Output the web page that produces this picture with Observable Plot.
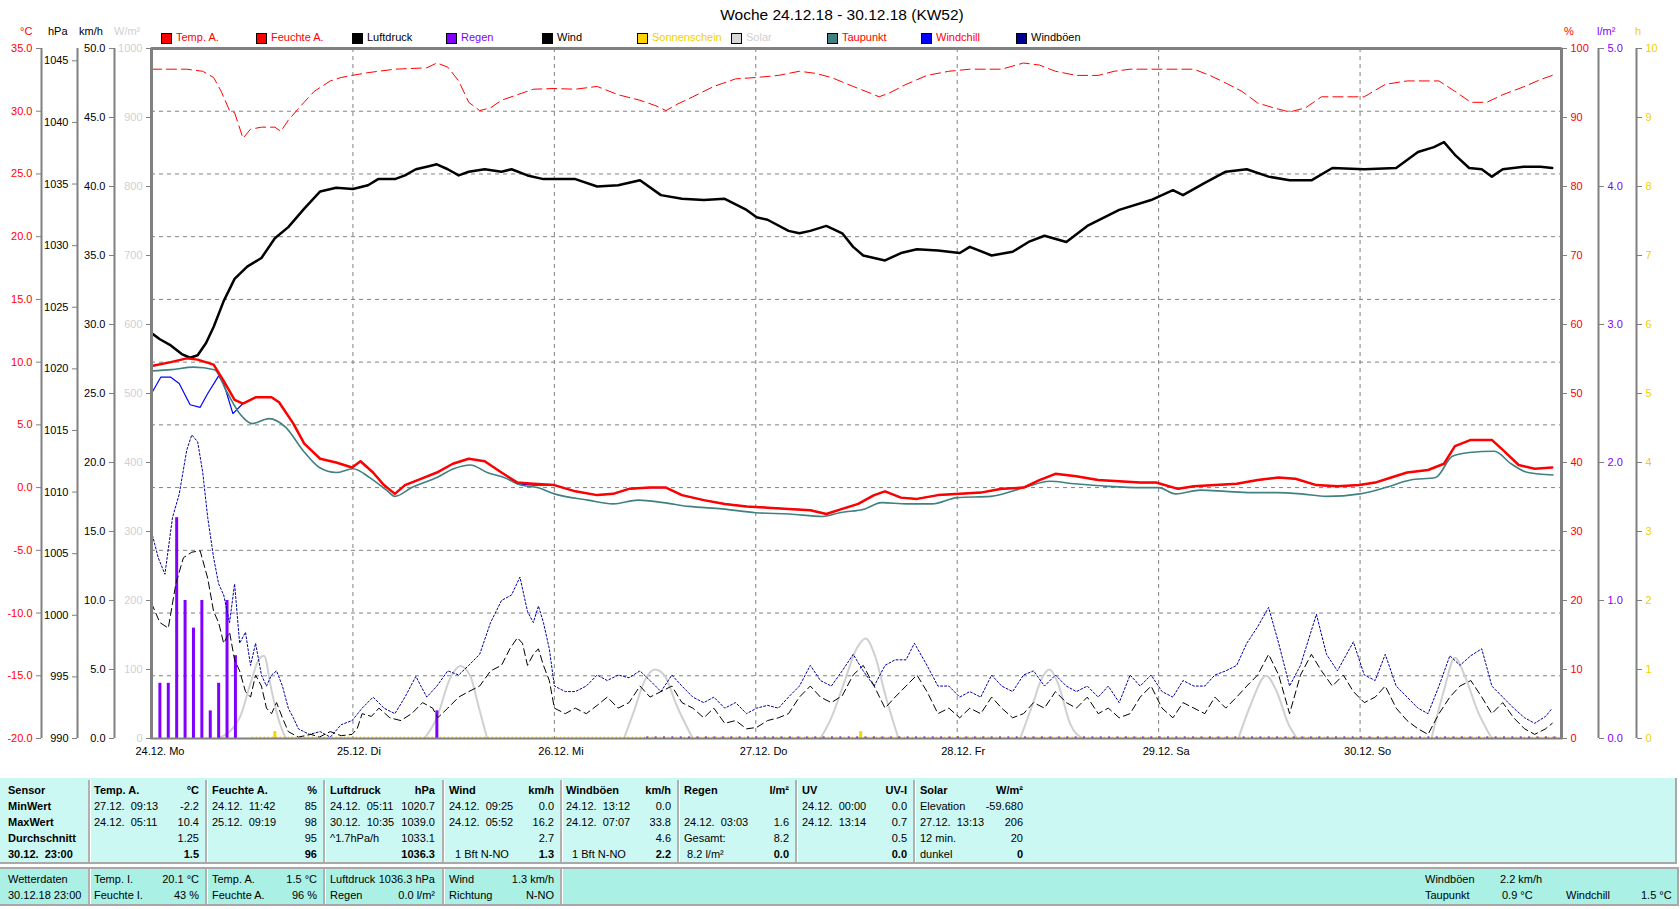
<!DOCTYPE html>
<html><head><meta charset="utf-8">
<script src="https://cdn.jsdelivr.net/npm/d3@7"></script>
<script src="https://cdn.jsdelivr.net/npm/@observablehq/plot@0.6"></script>
<style>
body{margin:0;background:#fff;font-family:"Liberation Sans",Arial,sans-serif;}
#wrap{position:relative;width:1680px;height:909px;overflow:hidden;background:#fff}
.a{position:absolute;white-space:nowrap;font-size:11px;line-height:13px}
.b{font-weight:bold}
#chart{position:absolute;left:0;top:0}
</style></head><body><div id="wrap"><div id="chart"></div></div>
<script>
// ---------- DATA (hours since 24.12.18 00:00) ----------
const dayHours = [0, 24, 48, 72, 96, 120, 144];
const dayLabels = ["24.12. Mo", "25.12. Di", "26.12. Mi", "27.12. Do", "28.12. Fr", "29.12. Sa", "30.12. So"];
const tempTicks = [-20, -15, -10, -5, 0, 5, 10, 15, 20, 25, 30, 35];
const hpaTicks = [990, 995, 1000, 1005, 1010, 1015, 1020, 1025, 1030, 1035, 1040, 1045];
const kmhTicks = [0, 5, 10, 15, 20, 25, 30, 35, 40, 45, 50];
const solarTicks = [0, 100, 200, 300, 400, 500, 600, 700, 800, 900, 1000];
const humTicks = [0, 10, 20, 30, 40, 50, 60, 70, 80, 90, 100];
const rainTicks = [0, 1, 2, 3, 4, 5];
const sunTicks = [0, 1, 2, 3, 4, 5, 6, 7, 8, 9, 10];

const temperature = [[0,9.7],[2.3,10.0],[4.2,10.3],[5.5,10.2],[7.4,9.8],[8.6,8.5],[9.9,7.0],[10.9,6.7],[12.4,7.2],[14.3,7.2],[15.2,6.8],[16.9,5.1],[18.2,3.5],[20.1,2.3],[22,2.0],[23.9,1.6],[24.9,2.1],[26.4,1.2],[27.7,0.2],[29,-0.5],[30.2,0.2],[32.1,0.7],[34,1.2],[35.9,1.9],[37.8,2.3],[39.7,2.1],[41.7,1.2],[43.6,0.4],[45.5,0.3],[48,0.2],[50.5,-0.3],[53.1,-0.6],[55,-0.5],[56.9,-0.1],[59.4,0.0],[61.3,0.0],[63.2,-0.6],[65.8,-1.0],[68.3,-1.3],[70.9,-1.5],[73.4,-1.6],[75.9,-1.7],[78.5,-1.8],[80.4,-2.1],[82.3,-1.7],[84.2,-1.3],[86.1,-0.6],[87.4,-0.3],[89.3,-0.8],[91.2,-0.9],[93.7,-0.6],[96.3,-0.5],[98.8,-0.4],[101.3,-0.1],[103.9,0.0],[105.8,0.6],[107.7,1.1],[110.2,0.9],[112.8,0.6],[115.3,0.5],[117.8,0.4],[119.7,0.4],[122.3,-0.1],[124.2,0.1],[126.7,0.2],[129.3,0.3],[131.8,0.6],[134.3,0.8],[136.3,0.7],[138.8,0.2],[141.3,0.1],[143.9,0.2],[145.8,0.4],[147.7,0.8],[149.6,1.2],[152.1,1.4],[154,1.9],[155.3,3.3],[157.2,3.8],[159.7,3.8],[161,3.0],[162.9,1.8],[164.8,1.5],[166.9,1.6]];

const dewPoint = [[0,9.3],[2.4,9.4],[5,9.6],[7.5,9.4],[9,7.6],[10.5,5.9],[12,5.1],[14,5.5],[16,4.8],[18,3.0],[20,1.6],[22,1.2],[24,1.5],[26,0.8],[28,-0.2],[29,-0.7],[31,0.0],[34,0.8],[36,1.5],[38,1.8],[40,1.2],[42,0.8],[44,0.2],[46,0.0],[48,-0.5],[52,-1.0],[55,-1.3],[58,-1.0],[61,-1.2],[64,-1.5],[68,-1.7],[72,-2.0],[76,-2.1],[80,-2.3],[82,-2.0],[85,-1.7],[87,-1.2],[90,-1.3],[93,-1.3],[96,-0.8],[100,-0.7],[104,0.0],[107,0.5],[110,0.3],[114,0.1],[118,0.0],[120,0.0],[122,-0.5],[125,-0.2],[128,-0.3],[131,-0.4],[134,-0.4],[137,-0.5],[140,-0.7],[144,-0.5],[147,0.0],[150,0.6],[153,0.8],[155,2.5],[157,2.8],[160,2.9],[162,1.9],[164,1.2],[167,1.0]];

const windChill = [[0,7.5],[1.1,8.8],[2.3,8.8],[3.3,8.3],[4.6,6.6],[5.8,6.4],[6.7,7.5],[8.0,8.9],[8.6,8.3],[9.7,5.9],[10.9,6.7],[12.4,7.2],[14.3,7.2],[15.2,6.8],[16.9,5.1],[18.2,3.5],[20.1,2.3],[22,2.0],[23.9,1.6],[24.9,2.1],[26.4,1.2],[27.7,0.2],[29,-0.5],[30.2,0.2],[32.1,0.7],[34,1.2],[35.9,1.9],[37.8,2.3],[39.7,2.1],[41.7,1.2],[43.6,0.3],[45.5,0.2],[48,0.2],[50.5,-0.3],[53.1,-0.6],[55,-0.5],[56.9,-0.1],[59.4,0.0],[61.3,0.0],[63.2,-0.6],[65.8,-1.0],[68.3,-1.3],[70.9,-1.5],[73.4,-1.6],[75.9,-1.7],[78.5,-1.8],[80.4,-2.1],[82.3,-1.7],[84.2,-1.3],[86.1,-0.6],[87.4,-0.3],[89.3,-0.8],[91.2,-0.9],[93.7,-0.6],[96.3,-0.5],[98.8,-0.4],[101.3,-0.1],[103.9,0.0],[105.8,0.6],[107.7,1.1],[110.2,0.9],[112.8,0.6],[115.3,0.5],[117.8,0.4],[119.7,0.4],[122.3,-0.1],[124.2,0.1],[126.7,0.2],[129.3,0.3],[131.8,0.6],[134.3,0.8],[136.3,0.7],[138.8,0.2],[141.3,0.1],[143.9,0.2],[145.8,0.4],[147.7,0.8],[149.6,1.2],[152.1,1.4],[154,1.9],[155.3,3.3],[157.2,3.8],[159.7,3.8],[161,3.0],[162.9,1.8],[164.8,1.5],[166.9,1.6]];

const humidity = [[0,97.0],[4.2,97.0],[6.1,96.7],[7.4,95.8],[8.3,93.8],[9.3,91.0],[9.9,90.7],[10.9,87.0],[11.8,88.3],[13.1,88.6],[14.7,88.6],[15.4,88.0],[16.3,89.6],[17.8,91.7],[19.4,93.8],[21.3,95.3],[22.6,95.8],[23.9,96.1],[25.8,96.5],[29,97.0],[32.8,97.2],[34,97.9],[35.3,97.3],[36.6,95.3],[37.8,92.2],[39.1,91.0],[40.4,91.4],[41.7,92.5],[43.6,93.3],[45.5,94.1],[48,94.2],[50.5,94.1],[53.1,94.5],[55.6,93.3],[58.2,92.5],[60.1,91.7],[61.3,91.0],[62.6,91.9],[64.5,93.0],[67,94.5],[69.6,95.6],[72.1,95.8],[74.7,96.1],[77.2,96.7],[79.1,96.4],[81,95.8],[83.6,94.5],[85.5,93.6],[86.7,93.0],[88,93.6],[89.9,94.8],[92.4,96.1],[95,96.7],[97.5,97.0],[101.3,97.0],[103.9,97.9],[105.8,97.6],[107.7,96.7],[110.2,96.1],[112.8,96.1],[114.7,96.7],[116.6,97.0],[120.4,97.0],[124.2,97.0],[126.1,96.1],[128,95.0],[129.9,93.8],[131.8,92.1],[133.7,91.4],[135.6,90.8],[137.5,91.4],[139.4,93.0],[143.2,93.0],[144.5,93.0],[147,94.8],[149.6,95.3],[153.4,95.3],[155.3,93.8],[157.2,92.2],[159.1,92.2],[161,93.3],[163.6,94.5],[165.5,95.5],[166.9,96.1]];

const pressure = [[0,1022.9],[1,1022.4],[2.3,1021.9],[3.6,1021.2],[4.6,1020.9],[5.5,1021.1],[6.5,1022.1],[7.4,1023.4],[8.6,1025.5],[9.9,1027.3],[11.4,1028.3],[13.1,1029.0],[14.7,1030.6],[16.3,1031.5],[18.2,1033.0],[20.1,1034.4],[22,1034.7],[24,1034.6],[25.8,1034.9],[27,1035.4],[29,1035.4],[30.2,1035.7],[31.5,1036.2],[32.8,1036.4],[34,1036.6],[35.3,1036.2],[36.6,1035.7],[37.8,1036.0],[39.7,1036.2],[41.7,1036.0],[42.9,1036.2],[44.8,1035.7],[46.7,1035.4],[48,1035.4],[50.5,1035.4],[53.1,1034.8],[55.6,1034.9],[58.2,1035.3],[60.7,1034.1],[63.2,1033.8],[65.8,1033.7],[68.3,1033.8],[70.9,1032.9],[72.1,1032.3],[73.4,1032.1],[75.9,1031.2],[77.2,1031.0],[78.5,1031.2],[80.4,1031.6],[82.3,1031.0],[83.6,1029.9],[84.8,1029.2],[87.4,1028.8],[89.3,1029.4],[91.2,1029.7],[93.7,1029.6],[96.3,1029.4],[97.5,1029.9],[100.1,1029.2],[102.6,1029.5],[104.5,1030.3],[106.4,1030.8],[109,1030.3],[111.5,1031.6],[115.3,1032.9],[119.1,1033.7],[121.7,1034.5],[122.9,1034.1],[125.5,1035.1],[128,1036.0],[130.5,1036.2],[133.1,1035.6],[135.6,1035.3],[138.2,1035.3],[140.7,1036.3],[144.5,1036.2],[148.3,1036.3],[150.9,1037.6],[152.8,1038.0],[154,1038.4],[155.4,1037.3],[157,1036.3],[158.5,1036.2],[159.7,1035.6],[161,1036.2],[163.5,1036.4],[165.5,1036.4],[166.9,1036.3]];

const wind = [[0,9.8],[1,8.4],[2,8.0],[2.9,11.2],[3.8,13.1],[4.8,13.5],[5.8,13.6],[6.7,11.6],[7.4,9.2],[8,8.4],[8.6,6.9],[9.3,7.7],[9.9,5.7],[10.5,4.9],[11.2,3.4],[11.8,3.0],[12.4,4.6],[13.1,3.8],[13.7,2.2],[14.3,1.8],[14.9,2.6],[15.6,1.5],[16.3,0.5],[17.5,0.1],[19,0.3],[20,0.1],[21.3,0.5],[22.6,0.2],[23.9,0.3],[24.5,0.7],[25.1,1.8],[26.2,1.6],[27.1,2.2],[28.4,1.5],[29.7,1.3],[31,1.8],[32.3,2.6],[33.5,2.2],[34.1,1.5],[35.3,2.2],[36.6,3.0],[37.8,3.4],[39.1,3.8],[40.4,4.9],[41.7,5.3],[42.7,6.5],[43.6,7.3],[44.2,6.9],[44.8,5.3],[45.5,6.1],[46.1,6.5],[46.7,5.3],[47.4,4.2],[48,2.2],[49.3,1.8],[50.5,2.2],[51.8,1.8],[53.1,2.4],[54.3,3.0],[55.6,2.2],[56.9,2.6],[58.2,3.8],[59.4,3.0],[60.7,3.4],[62,3.8],[63.2,2.6],[64.5,2.2],[65.8,1.5],[67,2.2],[68.3,1.1],[69.6,1.3],[70.9,0.7],[72.1,0.8],[73.4,1.3],[74.7,1.5],[75.9,1.8],[77.2,3.0],[78.5,3.8],[79.7,3.0],[81,2.6],[82.3,3.1],[83.6,4.6],[84.8,5.3],[86.1,3.8],[87.4,2.2],[88.6,3.0],[89.9,3.8],[91.2,4.6],[92.4,3.4],[93.7,1.8],[95,2.2],[96.3,1.5],[97.5,2.2],[98.8,1.8],[100.1,3.0],[101.3,2.2],[102.6,1.5],[103.9,1.8],[105.1,2.6],[106.4,2.2],[107.7,3.4],[109,2.6],[110.2,2.2],[111.5,3.0],[112.8,1.8],[114,2.2],[115.3,1.5],[116.6,1.8],[117.8,3.0],[119.1,3.8],[120.4,2.2],[121.7,1.5],[122.9,2.6],[124.2,2.2],[125.5,1.8],[126.7,3.0],[128,2.2],[129.3,3.0],[130.5,3.8],[131.8,4.6],[133.1,6.1],[134.3,4.6],[135.6,1.8],[136.9,4.6],[138.2,6.1],[139.4,4.9],[140.7,3.8],[142,4.6],[143.2,3.4],[144.5,2.6],[145.8,3.0],[147,3.8],[148.3,2.2],[149.6,1.3],[150.9,0.7],[152.1,0.3],[153.4,1.8],[154.7,3.0],[155.9,3.8],[157.2,4.2],[158.5,3.0],[159.7,1.8],[161,2.6],[162.3,1.5],[163.6,0.7],[164.8,0.3],[166.1,0.7],[166.9,1.1]];

const gusts = [[0,15.0],[0.8,13.1],[1.6,11.9],[2.5,16.0],[3.3,17.7],[4.2,20.9],[4.8,22.0],[5.5,21.5],[6.1,19.3],[6.7,16.0],[7.4,13.1],[8,11.2],[8.6,10.4],[9.3,8.4],[9.9,11.2],[10.5,6.9],[11.2,7.7],[11.8,5.3],[12.4,6.9],[13.1,4.6],[13.7,3.8],[14.3,4.6],[14.9,4.9],[15.6,3.8],[16.3,2.2],[16.9,1.5],[17.5,0.7],[18.8,0.3],[20.1,0.5],[21.3,0.1],[22.6,1.0],[23.9,1.3],[25.1,2.2],[26.4,3.0],[27.7,2.2],[29,1.8],[30.2,3.0],[31.5,4.5],[32.1,3.8],[32.8,3.0],[34,3.8],[35.3,4.9],[36.6,4.6],[37.8,5.3],[39.1,6.1],[40.4,8.4],[41.7,10.0],[42.9,10.4],[43.9,11.7],[44.8,9.2],[45.5,8.4],[46.1,9.6],[46.7,8.4],[47.4,6.5],[48,3.8],[49.3,3.4],[50.5,3.4],[51.8,3.8],[53.1,4.6],[54.3,4.2],[55.6,4.6],[56.9,4.4],[58.2,4.9],[59.4,4.2],[60.7,3.4],[62,4.6],[63.2,3.8],[64.5,3.0],[65.8,2.6],[67,3.0],[68.3,2.2],[69.6,2.6],[70.9,1.8],[72.1,2.2],[73.4,2.4],[74.7,2.2],[75.9,3.0],[77.2,3.8],[78.5,5.3],[79.7,4.2],[81,3.8],[82.3,4.9],[83.6,6.1],[84.8,4.9],[86.1,3.8],[87.4,5.3],[88.6,5.7],[89.9,5.7],[90.9,6.9],[92.4,5.3],[93.7,3.8],[95,3.8],[96.3,3.0],[97.5,3.4],[98.8,3.0],[100.1,4.6],[101.3,3.8],[102.6,3.4],[103.9,4.6],[105.1,4.9],[106.4,3.8],[107.7,4.6],[109,3.8],[110.2,3.4],[111.5,3.8],[112.8,3.0],[114,3.8],[115.3,2.6],[116.6,4.6],[117.8,3.8],[119.1,4.6],[120.4,3.4],[121.7,3.0],[122.9,4.2],[124.2,3.8],[125.5,3.8],[126.7,4.6],[128,4.9],[129.3,5.3],[130.5,6.9],[131.8,8.1],[133.1,9.5],[134.3,6.9],[135.6,3.8],[136.9,5.3],[138.8,9.0],[140,6.1],[141.3,4.9],[143.2,7.0],[144.5,4.6],[145.8,4.2],[147,6.1],[148.3,3.8],[149.6,3.0],[150.9,2.2],[152.1,1.8],[153.4,3.8],[154.7,6.0],[155.9,5.3],[157.2,6.0],[158.5,6.5],[159.7,3.8],[161,3.0],[162.3,2.2],[163.6,1.5],[164.8,1.1],[166.1,1.6],[166.9,2.2]];

const solar = [[8,0],[10.5,30],[11.8,80],[12.8,115],[13.4,120],[14.3,70],[15.2,25],[16,0],
  [32.5,0],[34,30],[35.5,85],[36.8,105],[38,90],[39,45],[40,0],
  [56.3,0],[57.5,40],[58.8,85],[60,100],[61.2,90],[62.5,50],[64.5,0],
  [79.7,0],[81,30],[82.5,80],[84,130],[85.1,145],[86.2,120],[87.5,60],[89,0],
  [103.5,0],[105,50],[106,85],[107,100],[108,80],[109.5,20],[111,0],
  [129.5,0],[131,50],[132.8,91],[134,70],[135.5,20],[136.5,0],
  [152.5,0],[154,70],[155.3,117],[156.5,90],[158,40],[159.7,0]];

const rain = [[0,0.6],[1,0.4],[2,0.4],[3,1.6],[4,1.0],[5,0.8],[6,1.0],[7,0.2],[8,0.4],[9,1.0],[10,0.6],[34,0.2]];
const sunshine = [[14.7,0.1],[84.5,0.1]];
// spans (hours) where zero readings are drawn along the base line
const sunZeroSpan = [12, 168];
const rainZeroSpan = [59, 168];

// ---------- value -> temperature-axis position ----------
const fHum = h => -20 + h * 0.55;
const fP = p => -20 + (p - 990) * 55 / 56;
const fW = w => -20 + w * 1.1;
const fS = s => -20 + s * 0.055;
const fR = r => -20 + r * 11;
const fSun = h => -20 + h * 5.5;

const gray = "#808080";
const axOpts = {label: null, tickSize: 5, fontSize: 11, stroke: gray};

const chart = Plot.plot({
  width: 1680, height: 770,
  marginLeft: 151, marginRight: 119, marginTop: 48, marginBottom: 32,
  x: {domain: [0, 168], axis: null},
  y: {domain: [-20, 35], axis: null},
  style: {fontFamily: "Liberation Sans, Arial, sans-serif", fontSize: "11px", background: "transparent", overflow: "visible"},
  marks: [
    Plot.ruleY(tempTicks.slice(1, -1), {stroke: gray, strokeDasharray: "4,4", strokeWidth: 1}),
    Plot.ruleX(dayHours.slice(1), {stroke: gray, strokeDasharray: "4,4", strokeWidth: 1}),
    Plot.line(solar, {x: d => d[0], y: d => fS(d[1]), z: d => Math.floor(d[0] / 24), stroke: "#d0d0d0", strokeWidth: 2, curve: "monotone-x"}),
    Plot.ruleY([-20], {x1: sunZeroSpan[0], x2: sunZeroSpan[1], stroke: "#F0C800", strokeWidth: 2, strokeDasharray: "1,3", dy: -1}),
    Plot.ruleY([-20], {x1: rainZeroSpan[0], x2: rainZeroSpan[1], stroke: "#8000FF", strokeWidth: 2, strokeDasharray: "2,6.4", dy: -1}),
    Plot.ruleX(sunshine, {x: d => d[0], y1: -20, y2: d => fSun(d[1]), stroke: "#FFD200", strokeWidth: 3}),
    Plot.ruleX(rain, {x: d => d[0], y1: -20, y2: d => fR(d[1]), stroke: "#8000FF", strokeWidth: 3}),
    Plot.line(gusts, {x: d => d[0], y: d => fW(d[1]), stroke: "#0000A0", strokeWidth: 1, strokeDasharray: "2,2"}),
    Plot.line(wind, {x: d => d[0], y: d => fW(d[1]), stroke: "#000", strokeWidth: 1, strokeDasharray: "7,4"}),
    Plot.line(windChill, {x: d => d[0], y: d => d[1], stroke: "#0000FF", strokeWidth: 1.2}),
    Plot.line(dewPoint, {x: d => d[0], y: d => d[1], stroke: "#408080", strokeWidth: 1.6, curve: "monotone-x"}),
    Plot.line(humidity, {x: d => d[0], y: d => fHum(d[1]), stroke: "#FF0000", strokeWidth: 1, strokeDasharray: "10,5"}),
    Plot.line(pressure, {x: d => d[0], y: d => fP(d[1]), stroke: "#000", strokeWidth: 2.5}),
    Plot.line(temperature, {x: d => d[0], y: d => d[1], stroke: "#FF0000", strokeWidth: 2.5}),
    Plot.frame({stroke: gray, strokeWidth: 2}),
    Plot.ruleY([35], {stroke: gray, strokeWidth: 3}),
    Plot.ruleX([0], {stroke: gray, strokeWidth: 3}),
    Plot.ruleX([168], {stroke: gray, strokeWidth: 3}),
    // left axes
    Plot.ruleX([0], {dx: -110, stroke: gray, strokeWidth: 2}),
    Plot.axisY(tempTicks, {...axOpts, anchor: "left", dx: -110, fill: "#FF0000", tickFormat: d => d.toFixed(1)}),
    Plot.ruleX([0], {dx: -74, stroke: gray, strokeWidth: 2}),
    Plot.axisY(hpaTicks.map(fP), {...axOpts, anchor: "left", dx: -74, fill: "#000", tickFormat: d => String(Math.round(990 + (d + 20) * 56 / 55))}),
    Plot.ruleX([0], {dx: -37, stroke: gray, strokeWidth: 2}),
    Plot.axisY(kmhTicks.map(fW), {...axOpts, anchor: "left", dx: -37, fill: "#000", tickFormat: d => ((d + 20) / 1.1).toFixed(1)}),
    Plot.axisY(solarTicks.map(fS), {...axOpts, anchor: "left", fill: "#d0d0d0", tickFormat: d => String(Math.round((d + 20) / 0.055))}),
    // right axes
    Plot.axisY(humTicks.map(fHum), {...axOpts, anchor: "right", fill: "#FF0000", tickFormat: d => String(Math.round((d + 20) / 0.55))}),
    Plot.ruleX([168], {dx: 37, stroke: gray, strokeWidth: 2}),
    Plot.axisY(rainTicks.map(fR), {...axOpts, anchor: "right", dx: 37, fill: "#8000FF", tickFormat: d => ((d + 20) / 11).toFixed(1)}),
    Plot.ruleX([168], {dx: 75, stroke: gray, strokeWidth: 2}),
    Plot.axisY(sunTicks.map(fSun), {...axOpts, anchor: "right", dx: 75, fill: "#F0D000", tickFormat: d => String(Math.round((d + 20) / 5.5))}),
    // x labels
    Plot.axisX(dayHours, {anchor: "bottom", tickSize: 0, tickPadding: 9, textAnchor: "start", dx: -16, fontSize: 11, fill: "#000", label: null, tickFormat: d => dayLabels[d / 24]})
  ]
});
document.getElementById("chart").appendChild(chart);

// ---------- HTML texts: title, units, legend ----------
const wrap = document.getElementById("wrap");
function put(txt, x, y, opts = {}) {
  const d = document.createElement("div");
  d.className = "a" + (opts.bold ? " b" : "");
  d.textContent = txt;
  d.style.top = (y - 7) + "px";
  if (opts.right != null) { d.style.right = (1680 - opts.right) + "px"; d.style.textAlign = "right"; }
  else d.style.left = x + "px";
  if (opts.color) d.style.color = opts.color;
  if (opts.size) { d.style.fontSize = opts.size + "px"; d.style.lineHeight = (opts.size + 2) + "px"; d.style.top = (y - (opts.size + 2) / 2) + "px"; }
  wrap.appendChild(d);
  return d;
}
const title = put("Woche 24.12.18 - 30.12.18 (KW52)", 0, 15, {size: 15.5});
title.style.left = "0px"; title.style.width = "1684px"; title.style.textAlign = "center";

const unitLabels = [["°C", 20, "#FF0000"], ["hPa", 48, "#000"], ["km/h", 79, "#000"], ["W/m²", 114, "#d0d0d0"], ["%", 1564, "#FF0000"], ["l/m²", 1597, "#8000FF"], ["h", 1635, "#F0D000"]];
unitLabels.forEach(([t, x, c]) => put(t, x, 32, {color: c}));

const legendNames = ["Temp. A.", "Feuchte A.", "Luftdruck", "Regen", "Wind", "Sonnenschein", "Solar", "Taupunkt", "Windchill", "Windböen"];
const legendSwatch = ["#FF0000", "#FF0000", "#000000", "#8000FF", "#000000", "#FFD200", "#D8D8D8", "#408080", "#0000FF", "#000090"];
const legendText = ["#FF0000", "#FF0000", "#000000", "#8000FF", "#000000", "#F0D000", "#D0D0D0", "#FF0000", "#FF0000", "#000000"];
const legendX = [161, 256, 352, 446, 542, 637, 731, 827, 921, 1016];
legendNames.forEach((n, i) => {
  const s = document.createElement("div");
  s.style.cssText = `position:absolute;left:${legendX[i]}px;top:33px;width:9px;height:9px;border:1px solid #000;background:${legendSwatch[i]}`;
  wrap.appendChild(s);
  put(n, legendX[i] + 15, 38, {color: legendText[i]});
});

// ---------- table ----------
function box(x, y, w, h, bg, extra = "") {
  const d = document.createElement("div");
  d.style.cssText = `position:absolute;left:${x}px;top:${y}px;width:${w}px;height:${h}px;background:${bg};${extra}`;
  wrap.appendChild(d);
}
box(0, 778, 1677, 86, "#CCF8F4", "border-bottom:2px solid #a8a8a8;border-right:2px solid #a8a8a8;box-sizing:border-box");
box(0, 867, 1679, 39, "#AAF0E4", "border-top:2px solid #a8a8a8;border-bottom:2px solid #a8a8a8;border-right:2px solid #a8a8a8;box-sizing:border-box");
const sepX = [88, 205, 323, 442, 560, 677, 795, 913];
sepX.forEach(x => box(x, 780, 2, 82, "#b0b0b0", "border-right:1px solid #fff"));
sepX.slice(0, 5).forEach(x => box(x, 869, 2, 35, "#b0b0b0", "border-right:1px solid #fff"));

const rowY = [791, 807, 823, 839, 855];
const col0 = ["Sensor", "MinWert", "MaxWert", "Durchschnitt", "30.12.  23:00"];
col0.forEach((t, i) => { const d = put(t, 8, rowY[i], {bold: true}); d.style.whiteSpace = "pre"; });
const colLeft = [94, 212, 330, 449, 566, 684, 802, 920];
const colRight = [199, 317, 435, 554, 671, 789, 907, 1023];
const tableCells = [
  [["Temp. A.", "°C"], ["27.12.  09:13", "-2.2"], ["24.12.  05:11", "10.4"], ["", "1.25"], ["", "1.5"]],
  [["Feuchte A.", "%"], ["24.12.  11:42", "85"], ["25.12.  09:19", "98"], ["", "95"], ["", "96"]],
  [["Luftdruck", "hPa"], ["24.12.  05:11", "1020.7"], ["30.12.  10:35", "1039.0"], ["^1.7hPa/h", "1033.1"], ["", "1036.3"]],
  [["Wind", "km/h"], ["24.12.  09:25", "0.0"], ["24.12.  05:52", "16.2"], ["", "2.7"], ["  1 Bft N-NO", "1.3"]],
  [["Windböen", "km/h"], ["24.12.  13:12", "0.0"], ["24.12.  07:07", "33.8"], ["", "4.6"], ["  1 Bft N-NO", "2.2"]],
  [["Regen", "l/m²"], ["", ""], ["24.12.  03:03", "1.6"], ["Gesamt:", "8.2"], [" 8.2 l/m²", "0.0"]],
  [["UV", "UV-I"], ["24.12.  00:00", "0.0"], ["24.12.  13:14", "0.7"], ["", "0.5"], ["", "0.0"]],
  [["Solar", "W/m²"], ["Elevation", "-59.680"], ["27.12.  13:13", "206"], ["12 min.", "20"], ["dunkel", "0"]]
];
tableCells.forEach((col, c) => col.forEach(([l, r], i) => {
  const bold = i === 0 || i === 4;
  if (l) { const d = put(l, colLeft[c], rowY[i], {bold: i === 0}); d.style.whiteSpace = "pre"; }
  if (r) put(r, 0, rowY[i], {bold, right: colRight[c]});
}));

const row2Y = [880, 896];
put("Wetterdaten", 8, row2Y[0]); put("30.12.18 23:00", 8, row2Y[1]);
const bottomCells = [
  [["Temp. I.", "20.1 °C"], ["Feuchte I.", "43 %"]],
  [["Temp. A.", "1.5 °C"], ["Feuchte A.", "96 %"]],
  [["Luftdruck", "1036.3 hPa"], ["Regen", "0.0 l/m²"]],
  [["Wind", "1.3 km/h"], ["Richtung", "N-NO"]]
];
bottomCells.forEach((col, c) => col.forEach(([l, r], i) => {
  put(l, colLeft[c], row2Y[i]);
  put(r, 0, row2Y[i], {right: colRight[c]});
}));
put("Windböen", 1425, row2Y[0]); put("2.2 km/h", 1500, row2Y[0]);
put("Taupunkt", 1425, row2Y[1]); put("0.9 °C", 1502, row2Y[1]);
put("Windchill", 1566, row2Y[1]); put("1.5 °C", 1641, row2Y[1]);
</script></body></html>
